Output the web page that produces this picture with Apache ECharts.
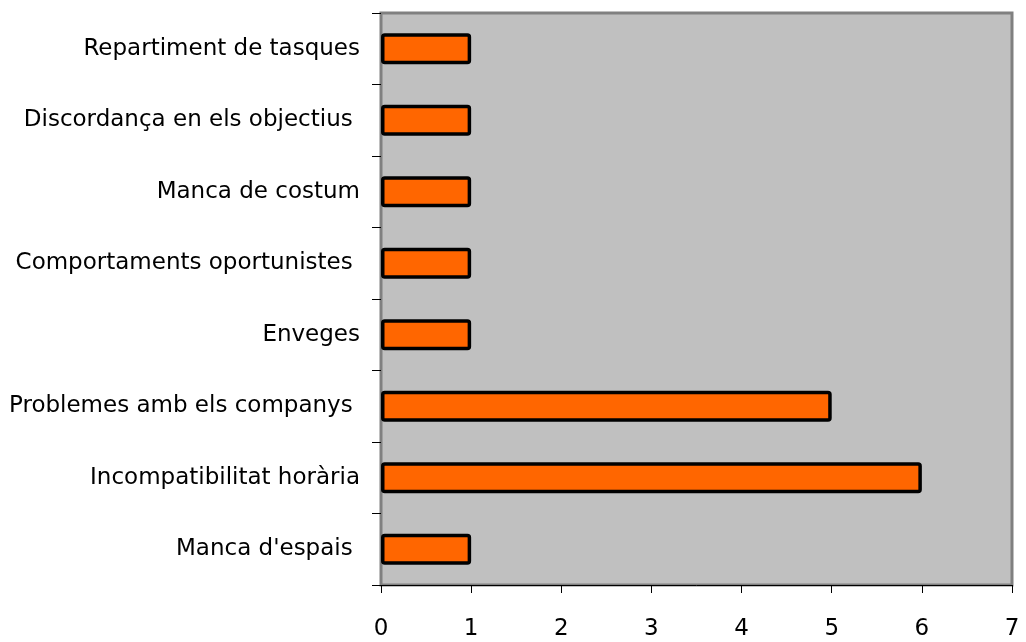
<!DOCTYPE html>
<html>
<head>
<meta charset="utf-8">
<script src="https://cdn.jsdelivr.net/npm/echarts@6/dist/echarts.min.js"></script>
<style>
  html, body { margin: 0; padding: 0; background: #fff; }
  #chart { width: 1026px; height: 642px; }
</style>
</head>
<body>
<div id="chart"></div>
<script>
// categories bottom to top, as the axis draws them
var categories = [
  "Manca d'espais ",
  'Incompatibilitat horària',
  'Problemes amb els companys ',
  'Enveges',
  'Comportaments oportunistes ',
  'Manca de costum',
  'Discordança en els objectius ',
  'Repartiment de tasques'
];
var values = [1, 6, 5, 1, 1, 1, 1, 1];
var xTicks = [0, 1, 2, 3, 4, 5, 6, 7];

var chart = echarts.init(document.getElementById('chart'), null, { renderer: 'canvas' });

var option = {
  animation: false,
  textStyle: { fontFamily: 'DejaVu Sans' },
  grid: {
    left: 381,
    right: 14,
    top: 13,
    bottom: 57,
    show: true,
    backgroundColor: '#c0c0c0',
    borderColor: '#808080',
    borderWidth: 3
  },
  xAxis: {
    type: 'value',
    min: xTicks[0],
    max: xTicks[xTicks.length - 1],
    interval: 1,
    splitLine: { show: false },
    axisLine: { show: true, lineStyle: { color: '#000', width: 1 } },
    axisTick: { show: true, length: 8, lineStyle: { color: '#000' } },
    axisLabel: { color: '#000', fontSize: 23, margin: 33 }
  },
  yAxis: {
    type: 'category',
    data: categories,
    axisLine: { show: true, lineStyle: { color: '#808080', width: 1 } },
    axisTick: { show: true, length: 9, alignWithLabel: false, lineStyle: { color: '#000' } },
    axisLabel: { color: '#000', fontSize: 23, margin: 21 }
  },
  series: [{
    type: 'bar',
    data: values,
    barWidth: 31,
    itemStyle: {
      color: '#ff6600',
      borderColor: '#000',
      borderWidth: 3.5,
      borderRadius: 2
    }
  }]
};

chart.setOption(option);
</script>
</body>
</html>
